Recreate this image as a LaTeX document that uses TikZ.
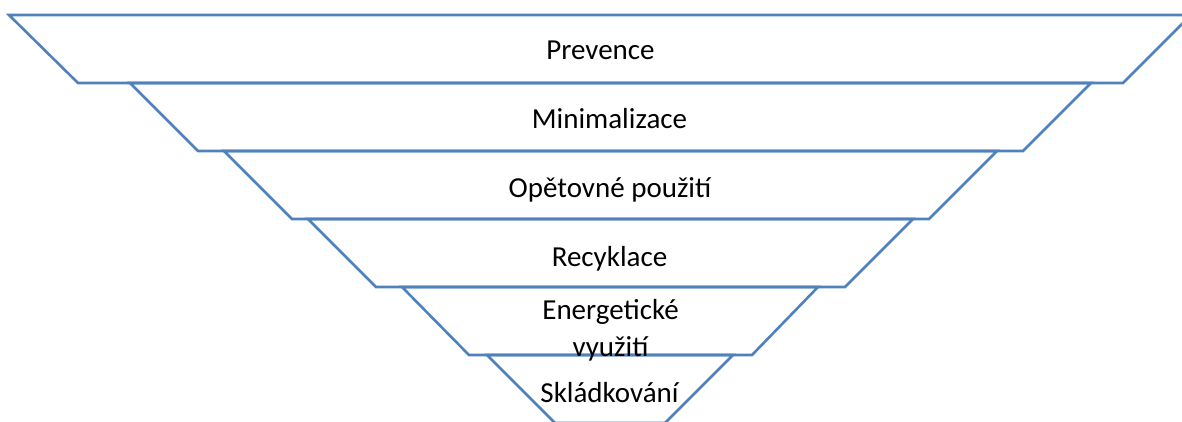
\documentclass[tikz,border=0pt]{standalone}
\usepackage{fontspec}
\setmainfont{Carlito}
\definecolor{tierblue}{HTML}{4F81BD}
\begin{document}
\begin{tikzpicture}[x=1pt,y=-1pt,
  tier/.style={draw=tierblue,line width=2.6pt,line join=miter},
  lbl/.style={font=\fontsize{29}{37}\selectfont,anchor=base,inner sep=0pt,align=center}]
\useasboundingbox (0,0) rectangle (1182,421);
\clip (0,0) rectangle (1182,421);
% levels of the pyramid, top to bottom
\draw[tier] (9,15) -- (1191,15) -- (1123,83) -- (78,83) -- cycle;
\draw[tier] (130,83) -- (1091,83) -- (1023,151) -- (198,151) -- cycle;
\draw[tier] (224,151) -- (997,151) -- (929,219) -- (292,219) -- cycle;
\draw[tier] (308,219) -- (913,219) -- (845,287) -- (376,287) -- cycle;
\draw[tier] (402,287) -- (818,287) -- (752,355) -- (469,355) -- cycle;
\draw[tier] (487,355) -- (733,355) -- (665,423) -- (555,423) -- cycle;
% labels
\node[lbl] (prev) at (600.5,59) {Prevence};
\node[lbl] (mini) at (609.5,128) {Minimalizace};
\node[lbl] (reuse) at (610,197) {Opětovné použití};
\node[lbl] (recy) at (609.5,266) {Recyklace};
\node[lbl] (ener) at (610.5,356) {Energetické\\využití};
\node[lbl] (skla) at (609.5,402.5) {Skládkování};
\end{tikzpicture}
\end{document}
